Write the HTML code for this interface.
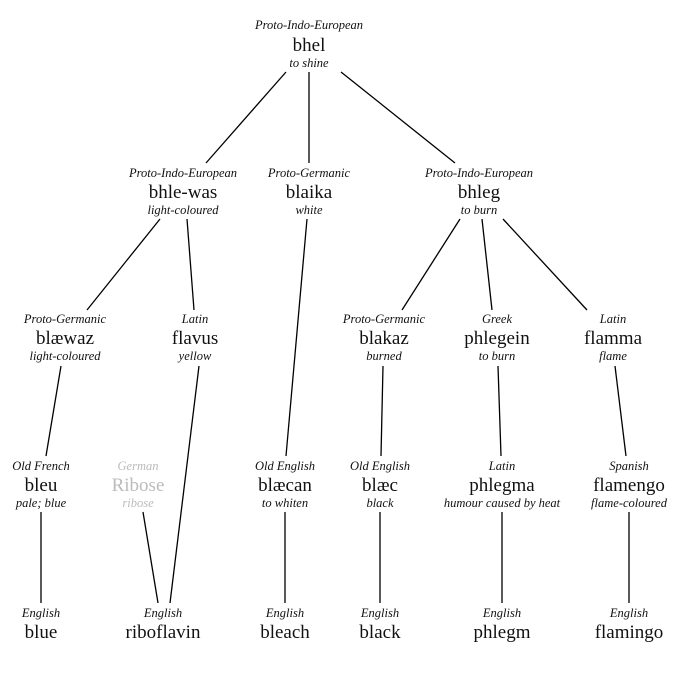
<!DOCTYPE html>
<html><head><meta charset="utf-8"><style>
html,body{margin:0;padding:0;background:#fff;}
svg{display:block;}
text{font-family:"Liberation Serif","DejaVu Serif",serif;text-anchor:middle;fill:#111;}
.l{font-style:italic;font-size:12.5px;}
.w{font-size:19px;}
.g .l,.g .w{fill:#bbb;}
line{stroke:#000;stroke-width:1.3;}
</style></head><body>
<svg width="675" height="675" viewBox="0 0 675 675">
<line x1="286" y1="72" x2="206" y2="163"/>
<line x1="309" y1="72" x2="309" y2="163"/>
<line x1="341" y1="72" x2="455" y2="163"/>
<line x1="160" y1="219" x2="87" y2="310"/>
<line x1="187" y1="219" x2="194" y2="310"/>
<line x1="307" y1="219" x2="286" y2="456"/>
<line x1="460" y1="219" x2="402" y2="310"/>
<line x1="482" y1="219" x2="492" y2="310"/>
<line x1="503" y1="219" x2="587" y2="310"/>
<line x1="61" y1="366" x2="46" y2="456"/>
<line x1="199" y1="366" x2="170" y2="603"/>
<line x1="383" y1="366" x2="381" y2="456"/>
<line x1="498" y1="366" x2="501" y2="456"/>
<line x1="615" y1="366" x2="626" y2="456"/>
<line x1="41" y1="512" x2="41" y2="603"/>
<line x1="143" y1="512" x2="158" y2="603"/>
<line x1="285" y1="512" x2="285" y2="603"/>
<line x1="380" y1="512" x2="380" y2="603"/>
<line x1="502" y1="512" x2="502" y2="603"/>
<line x1="629" y1="512" x2="629" y2="603"/>

<text class="l" x="309" y="29">Proto-Indo-European</text>
<text class="w" x="309" y="51">bhel</text>
<text class="l" x="309" y="67">to shine</text>

<text class="l" x="183" y="177">Proto-Indo-European</text>
<text class="w" x="183" y="198">bhle-was</text>
<text class="l" x="183" y="214">light-coloured</text>
<text class="l" x="309" y="177">Proto-Germanic</text>
<text class="w" x="309" y="198">blaika</text>
<text class="l" x="309" y="214">white</text>
<text class="l" x="479" y="177">Proto-Indo-European</text>
<text class="w" x="479" y="198">bhleg</text>
<text class="l" x="479" y="214">to burn</text>

<text class="l" x="65" y="323">Proto-Germanic</text>
<text class="w" x="65" y="344">blæwaz</text>
<text class="l" x="65" y="360">light-coloured</text>
<text class="l" x="195" y="323">Latin</text>
<text class="w" x="195" y="344">flavus</text>
<text class="l" x="195" y="360">yellow</text>
<text class="l" x="384" y="323">Proto-Germanic</text>
<text class="w" x="384" y="344">blakaz</text>
<text class="l" x="384" y="360">burned</text>
<text class="l" x="497" y="323">Greek</text>
<text class="w" x="497" y="344">phlegein</text>
<text class="l" x="497" y="360">to burn</text>
<text class="l" x="613" y="323">Latin</text>
<text class="w" x="613" y="344">flamma</text>
<text class="l" x="613" y="360">flame</text>

<text class="l" x="41" y="470">Old French</text>
<text class="w" x="41" y="491">bleu</text>
<text class="l" x="41" y="507">pale; blue</text>
<g class="g">
<text class="l" x="138" y="470">German</text>
<text class="w" x="138" y="491">Ribose</text>
<text class="l" x="138" y="507">ribose</text>
</g>
<text class="l" x="285" y="470">Old English</text>
<text class="w" x="285" y="491">blæcan</text>
<text class="l" x="285" y="507">to whiten</text>
<text class="l" x="380" y="470">Old English</text>
<text class="w" x="380" y="491">blæc</text>
<text class="l" x="380" y="507">black</text>
<text class="l" x="502" y="470">Latin</text>
<text class="w" x="502" y="491">phlegma</text>
<text class="l" x="502" y="507">humour caused by heat</text>
<text class="l" x="629" y="470">Spanish</text>
<text class="w" x="629" y="491">flamengo</text>
<text class="l" x="629" y="507">flame-coloured</text>

<text class="l" x="41" y="617">English</text>
<text class="w" x="41" y="638">blue</text>
<text class="l" x="163" y="617">English</text>
<text class="w" x="163" y="638">riboflavin</text>
<text class="l" x="285" y="617">English</text>
<text class="w" x="285" y="638">bleach</text>
<text class="l" x="380" y="617">English</text>
<text class="w" x="380" y="638">black</text>
<text class="l" x="502" y="617">English</text>
<text class="w" x="502" y="638">phlegm</text>
<text class="l" x="629" y="617">English</text>
<text class="w" x="629" y="638">flamingo</text>
</svg>
</body></html>
